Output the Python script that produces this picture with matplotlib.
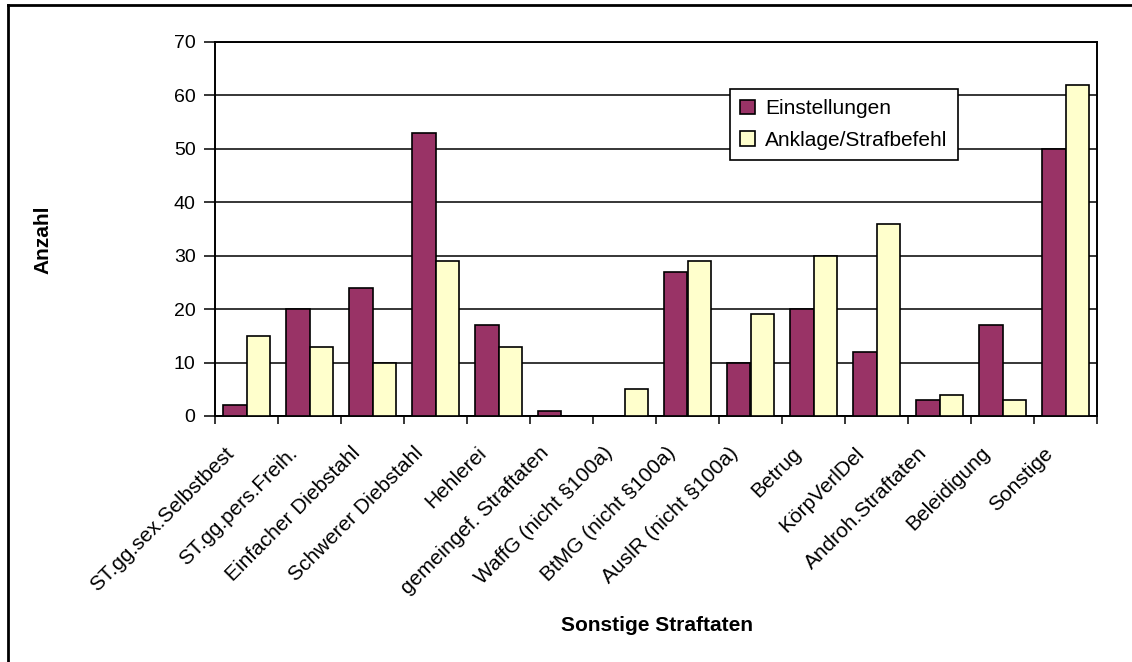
import matplotlib
matplotlib.use("Agg")
import matplotlib.pyplot as plt
import numpy as np
from matplotlib.lines import Line2D
from matplotlib.transforms import ScaledTranslation

plt.rcParams['font.family'] = ['Liberation Sans', 'DejaVu Sans']

categories = ["ST.gg.sex.Selbstbest", "ST.gg.pers.Freih.", "Einfacher Diebstahl",
              "Schwerer Diebstahl", "Hehlerei", "gemeingef. Straftaten",
              "WaffG (nicht §100a)", "BtMG (nicht §100a)", "AuslR (nicht §100a)",
              "Betrug", "KörpVerlDel", "Androh.Straftaten", "Beleidigung", "Sonstige"]
einstellungen = [2, 20, 24, 53, 17, 1, 0, 27, 10, 20, 12, 3, 17, 50]
anklage = [15, 13, 10, 29, 13, 0, 5, 29, 19, 30, 36, 4, 3, 62]
yticks = [0, 10, 20, 30, 40, 50, 60, 70]

W, H = 1132, 662
fig = plt.figure(figsize=(W / 100, H / 100), dpi=100)
ax = fig.add_axes([215 / W, 1 - 416 / H, (1097 - 215) / W, (416 - 42) / H])

x = np.arange(len(categories))
bw = 0.38
ax.bar(x - bw / 2, einstellungen, bw, color="#993366", edgecolor="black", linewidth=1.2,
       label="Einstellungen", zorder=3)
ax.bar(x + bw / 2, anklage, bw, color="#FFFFCC", edgecolor="black", linewidth=1.2,
       label="Anklage/Strafbefehl", zorder=3)

ax.set_xlim(-0.5, len(categories) - 0.5)
ax.set_ylim(0, 70)
ax.set_yticks(yticks)
ax.set_yticklabels([str(v) for v in yticks], fontsize=14)
ax.yaxis.grid(True, color="black", linewidth=1.1, zorder=0)
ax.tick_params(axis='y', length=8, width=1.1, direction='out', pad=6)

ax.set_xticks(x)
ax.set_xticklabels(categories, rotation=45, ha='right', va='top', rotation_mode='anchor', fontsize=15)
ax.tick_params(axis='x', which='major', length=0, pad=14)
ax.set_xticks(np.arange(-0.5, len(categories), 1.0), minor=True)
ax.tick_params(axis='x', which='minor', length=6, width=1.1, direction='out')

for s in ax.spines.values():
    s.set_linewidth(1.4)
    s.set_color("black")

ax.set_ylabel("Anzahl", fontsize=15, fontweight='bold')
ax.yaxis.set_label_coords((52 - 215) / (1097 - 215), 0.47)
ax.set_xlabel("Sonstige Straftaten", fontsize=15, fontweight='bold')
ax.xaxis.set_label_coords((657 - 215) / (1097 - 215), -(616 - 416) / (416 - 42))

leg = ax.legend(loc='upper left', bbox_to_anchor=((730 - 215) / (1097 - 215), (416 - 89) / (416 - 42)),
                fontsize=15, frameon=True, fancybox=False, edgecolor='black', framealpha=1,
                handlelength=0.7, handleheight=0.7, handletextpad=0.5, borderpad=0.5,
                labelspacing=0.6, borderaxespad=0)
leg.get_frame().set_linewidth(1.2)

# shift category labels like the reference
offset = ScaledTranslation(-22 / 100, -8 / 100, fig.dpi_scale_trans)
for lbl in ax.get_xticklabels():
    lbl.set_transform(lbl.get_transform() + offset)

# figure border (left and top visible)
fig.add_artist(Line2D([8 / W, 8 / W], [0, 1 - 5 / H], transform=fig.transFigure, color='black', linewidth=2))
fig.add_artist(Line2D([8 / W, 1], [1 - 5 / H, 1 - 5 / H], transform=fig.transFigure, color='black', linewidth=2))

fig.savefig("out.png", dpi=100)
